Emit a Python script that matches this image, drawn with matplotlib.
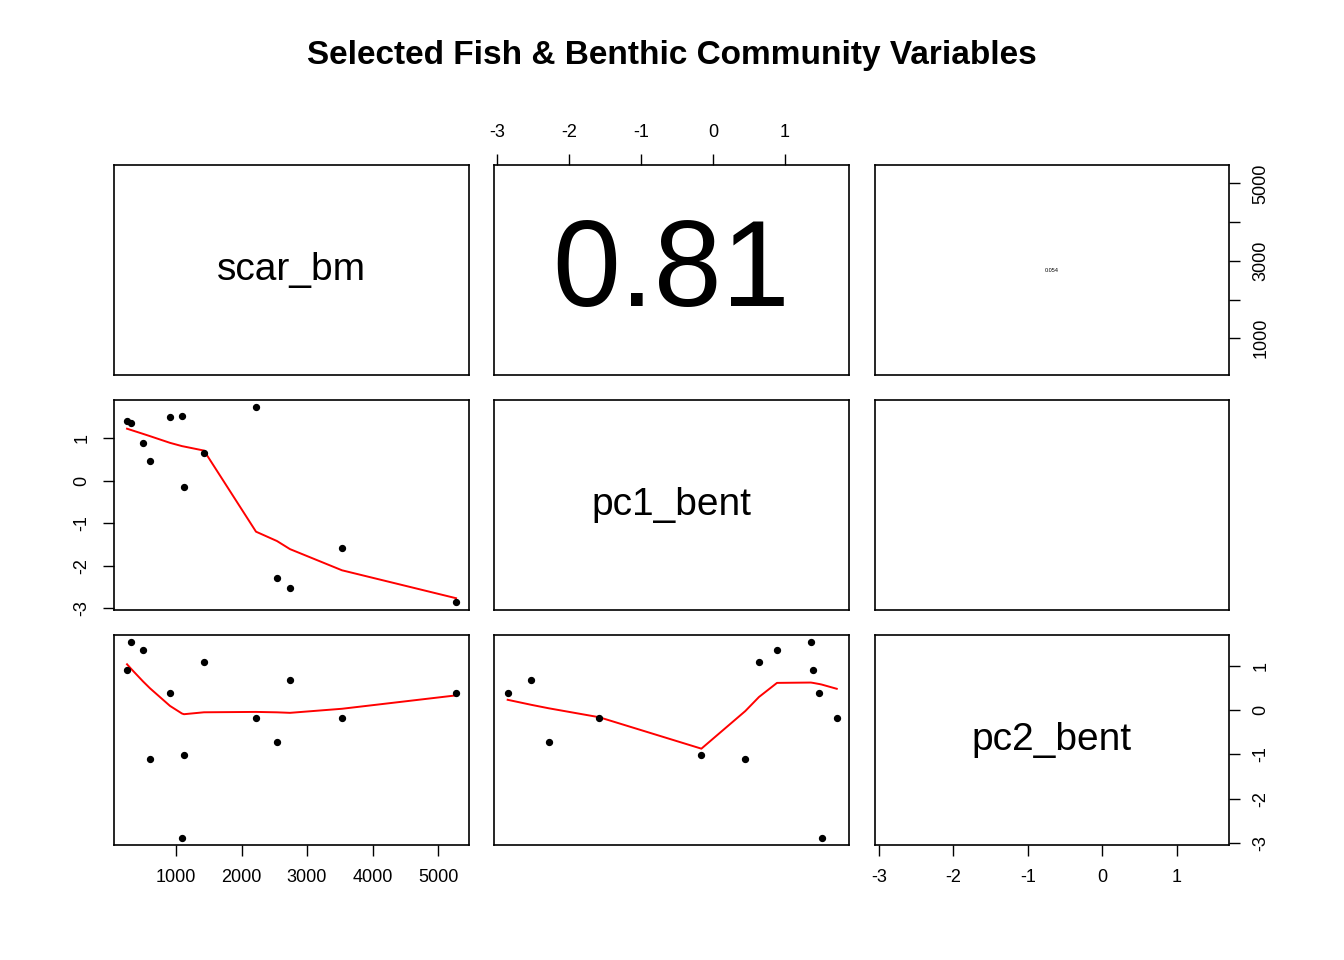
import numpy as np
import matplotlib.pyplot as plt

plt.rcParams['font.family'] = ['Liberation Sans', 'DejaVu Sans']

names = ['scar_bm', 'pc1_bent', 'pc2_bent']
scar_bm = np.array([252, 313, 496, 603, 908, 1092, 1122, 1427, 2221, 2542, 2740, 3534, 5275])
pc1_bent = np.array([1.39, 1.36, 0.89, 0.45, 1.48, 1.51, -0.16, 0.64, 1.72, -2.28, -2.52, -1.58, -2.85])
pc2_bent = np.array([0.91, 1.55, 1.36, -1.11, 0.39, -2.89, -1.02, 1.09, -0.18, -0.73, 0.68, -0.18, 0.39])
cor_text = ['0.81', '0.054']


def lowess(x, y, f=2/3, iters=3):
    o = np.argsort(x, kind='stable')
    x = x[o].astype(float)
    y = y[o].astype(float)
    n = len(x)
    r = int(np.ceil(f * n))
    w_rob = np.ones(n)
    fit = np.zeros(n)
    for _ in range(iters + 1):
        for i in range(n):
            d = np.abs(x - x[i])
            h = np.sort(d)[r - 1]
            w = np.clip(d / h, 0, 1) if h > 0 else (d == 0).astype(float)
            w = (1 - w ** 3) ** 3 * w_rob
            sw = w.sum()
            xm = (w * x).sum() / sw
            ym = (w * y).sum() / sw
            sxx = (w * (x - xm) ** 2).sum()
            b = (w * (x - xm) * (y - ym)).sum() / sxx if sxx > 1e-12 else 0
            fit[i] = ym + b * (x[i] - xm)
        res = y - fit
        s = np.median(np.abs(res))
        if s == 0:
            break
        u = np.clip(res / (6 * s), -1, 1)
        w_rob = (1 - u ** 2) ** 2
    return x, fit


fig = plt.figure(figsize=(13.44, 9.6), dpi=100)
W, H = 1344, 960
cols = [(114, 469), (494, 849), (875, 1229)]
rows = [(165, 375), (400, 610), (635, 845)]
lims = {'scar_bm': (53, 5473), 'pc1_bent': (-3.04, 1.89), 'pc2_bent': (-3.05, 1.70)}
data = {'scar_bm': scar_bm, 'pc1_bent': pc1_bent, 'pc2_bent': pc2_bent}
ticks = {'scar_bm': [1000, 2000, 3000, 4000, 5000], 'pc1_bent': [-3, -2, -1, 0, 1], 'pc2_bent': [-3, -2, -1, 0, 1]}
tlabels = {'scar_bm': ['1000', '2000', '3000', '4000', '5000'], 'pc1_bent': ['-3', '-2', '-1', '0', '1'],
           'pc2_bent': ['-3', '-2', '-1', '0', '1']}
right_scar = ['1000', '', '3000', '', '5000']

fig.suptitle('Selected Fish & Benthic Community Variables', y=0.958, fontsize=24, fontweight='bold')

for i in range(3):
    for j in range(3):
        x0, x1 = cols[j]
        y0, y1 = rows[i]
        ax = fig.add_axes([x0 / W, 1 - y1 / H, (x1 - x0) / W, (y1 - y0) / H])
        ax.set_xlim(lims[names[j]])
        ax.set_ylim(lims[names[i]])
        ax.set_xticks([])
        ax.set_yticks([])
        for s in ax.spines.values():
            s.set_linewidth(1.2)
        ax.tick_params(labelsize=13, length=8, width=1, pad=9)
        if i == j:
            ax.text(0.5, 0.5, names[i], transform=ax.transAxes, ha='center', va='center', fontsize=28)
        elif i > j:
            xv, yv = data[names[j]], data[names[i]]
            ax.scatter(xv, yv, s=18, color='black', zorder=3)
            lx, ly = lowess(xv, yv)
            ax.plot(lx, ly, color='red', lw=1.4)
        else:
            if (i, j) == (0, 1):
                ax.text(0.5, 0.48, cor_text[0], transform=ax.transAxes, ha='center', va='center', fontsize=88)
            elif (i, j) == (0, 2):
                ax.text(0.5, 0.5, cor_text[1], transform=ax.transAxes, ha='center', va='center', fontsize=4)
        # outer axes
        if i == 0 and j == 1:
            ax.xaxis.tick_top()
            ax.set_xticks(ticks['pc1_bent'], tlabels['pc1_bent'])
        if i == 2 and j in (0, 2):
            ax.set_xticks(ticks[names[j]], tlabels[names[j]])
        if j == 0 and i == 1:
            ax.set_yticks(ticks['pc1_bent'], tlabels['pc1_bent'], rotation=90, va='center')
        if j == 2 and i in (0, 2):
            ax.yaxis.tick_right()
            lab = right_scar if i == 0 else tlabels[names[i]]
            ax.set_yticks(ticks[names[i]], lab, rotation=90, va='center')

fig.savefig('out.png', dpi=100)
